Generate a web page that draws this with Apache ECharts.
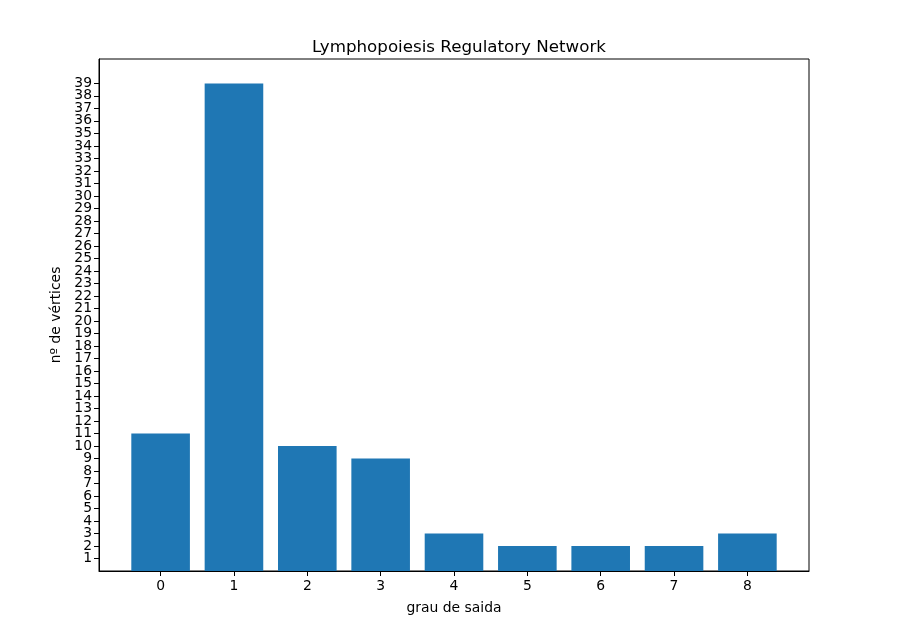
<!DOCTYPE html>
<html>
<head>
<meta charset="utf-8">
<script src="https://cdn.jsdelivr.net/npm/echarts@6/dist/echarts.min.js"></script>
<style>
  html, body { margin: 0; padding: 0; background: #fff; }
  #main { width: 899px; height: 621px; }
</style>
</head>
<body>
<div id="main"></div>
<script>
// grau de saida -> nº de vértices
var graus = [0, 1, 2, 3, 4, 5, 6, 7, 8];
var vertices = [11, 39, 10, 9, 3, 2, 2, 2, 3];
var yTicks = [];
for (var i = 1; i <= 39; i++) yTicks.push(i);
var yMax = 40.95;
// blank guard labels at both ends so ECharts' min/max overlap check leaves 1 and 39 alone
var yLabels = [0].concat(yTicks, [yMax]);

var myChart = echarts.init(document.getElementById('main'));

var fonte = 'DejaVu Sans';
var option = {
  animation: false,
  title: {
    text: 'Lymphopoiesis Regulatory Network',
    left: 454,
    textAlign: 'center',
    top: 34,
    textStyle: { fontFamily: fonte, fontSize: 16.7, fontWeight: 'normal', color: '#000' }
  },
  grid: {
    left: 99, right: 90, top: 59, bottom: 50,
    show: true, borderColor: '#000', borderWidth: 1
  },
  xAxis: {
    type: 'value',
    min: -0.84,
    max: 8.84,
    name: 'grau de saida',
    nameLocation: 'middle',
    nameGap: 30,
    nameTextStyle: { fontFamily: fonte, fontSize: 13.9, color: '#000' },
    splitLine: { show: false },
    axisLine: { onZero: false, lineStyle: { color: '#000' } },
    axisTick: { show: true, length: 5, lineStyle: { color: '#000' }, customValues: graus },
    axisLabel: { fontFamily: fonte, fontSize: 13.9, color: '#000', margin: 8, customValues: graus }
  },
  yAxis: {
    type: 'value',
    min: 0,
    max: yMax,
    name: 'nº de vértices',
    nameLocation: 'middle',
    nameGap: 34,
    nameTextStyle: { fontFamily: fonte, fontSize: 13.9, color: '#000' },
    splitLine: { show: false },
    axisLine: { show: true, onZero: false, lineStyle: { color: '#000' } },
    axisTick: { show: true, length: 5, lineStyle: { color: '#000' }, customValues: yTicks },
    axisLabel: {
      fontFamily: fonte, fontSize: 13.9, color: '#000', margin: 7,
      customValues: yLabels, hideOverlap: false,
      formatter: function (v) { return (v >= 1 && v <= 39) ? String(v) : ''; }
    }
  },
  series: [
    {
      type: 'bar',
      barWidth: 58.6,
      itemStyle: { color: '#1f77b4' },
      data: graus.map(function (g, i) { return [g, vertices[i]]; })
    }
  ]
};

myChart.setOption(option);
</script>
</body>
</html>
